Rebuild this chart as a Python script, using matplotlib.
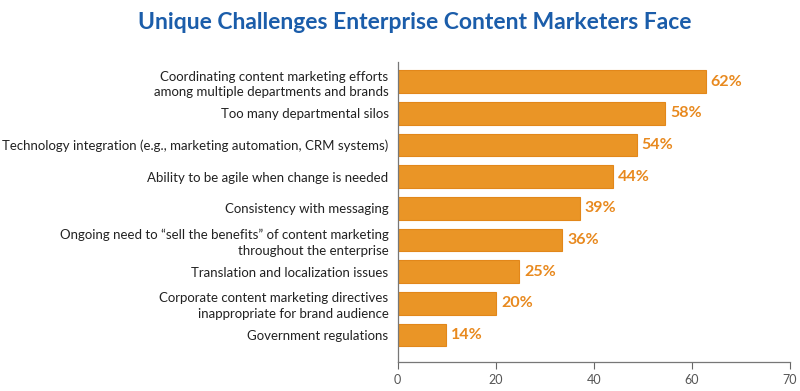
import matplotlib
matplotlib.use("Agg")
import matplotlib.pyplot as plt
import numpy as np

plt.rcParams['font.family'] = ['Lato', 'DejaVu Sans']

# categories, top to bottom
categories = [
    "Coordinating content marketing efforts\namong multiple departments and brands",
    "Too many departmental silos",
    "Technology integration (e.g., marketing automation, CRM systems)",
    "Ability to be agile when change is needed",
    "Consistency with messaging",
    "Ongoing need to \u201csell the benefits\u201d of content marketing\nthroughout the enterprise",
    "Translation and localization issues",
    "Corporate content marketing directives\ninappropriate for brand audience",
    "Government regulations",
]
# bar lengths as drawn in the picture (axis units)
bar_lengths = [62.8, 54.5, 48.7, 43.9, 37.1, 33.6, 24.8, 20.1, 9.9]
# printed labels
pct_labels = ["62%", "58%", "54%", "44%", "39%", "36%", "25%", "20%", "14%"]
# the last tick sits at the 80 mark but reads "70" in the original
x_tick_pos = [0, 20, 40, 60, 80]
x_tick_labels = ["0", "20", "40", "60", "70"]

bar_color = "#EA9526"
label_color = "#E8891E"
title_color = "#1B5DAA"

fig = plt.figure(figsize=(8, 3.91), dpi=100)
ax = fig.add_axes([0.497, 0.075, 0.4906, 0.766])

y = np.arange(len(categories))
ax.barh(y, bar_lengths, height=0.71, color=bar_color, edgecolor="#E2871A", linewidth=0.8)

for yi, w, lab in zip(y, bar_lengths, pct_labels):
    ax.text(w + 1.0, yi, lab, va="center", ha="left", color=label_color,
            fontsize=11.5, fontweight="bold")

ax.set_yticks(y)
ax.set_yticklabels(categories, fontsize=9.5, color="#222222", linespacing=1.36)
ax.tick_params(axis="y", length=0, pad=6.5)
ax.set_xlim(0, 80)
ax.set_ylim(len(categories) - 1 + 0.84, -0.615)
ax.set_xticks(x_tick_pos)
ax.set_xticklabels(x_tick_labels)
ax.tick_params(axis="x", length=5, width=0.8, colors="#666666", labelsize=9, labelcolor="#555555", pad=4)

for s in ["top", "right"]:
    ax.spines[s].set_visible(False)
for s in ["left", "bottom"]:
    ax.spines[s].set_color("#777777")
    ax.spines[s].set_linewidth(0.9)

fig.text(0.518, 0.943, "Unique Challenges Enterprise Content Marketers Face",
         ha="center", va="center", fontsize=16.5, fontweight="bold", color=title_color)

fig.savefig("out.png", dpi=100)
